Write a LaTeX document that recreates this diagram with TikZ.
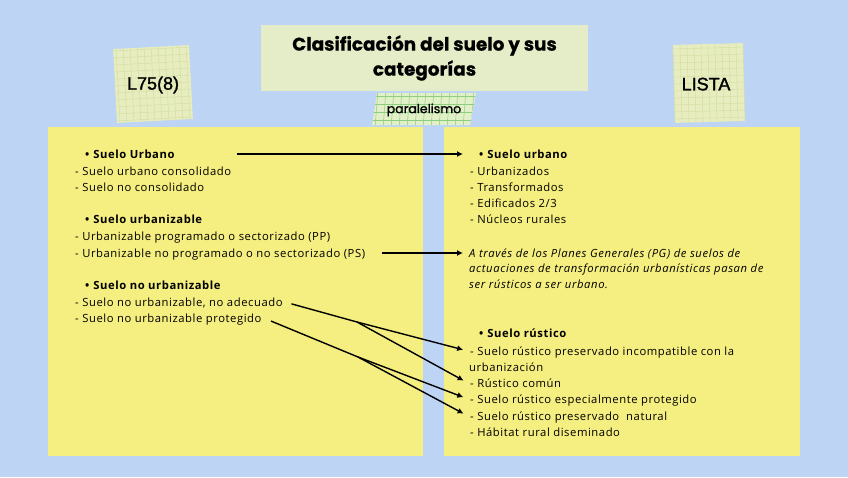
\documentclass[tikz,border=0pt]{standalone}
\usepackage{fontspec}
\setmainfont[LetterSpace=5, ItalicFeatures={LetterSpace=5.5}]{Open Sans}
\newfontfamily\titlefont[BoldFeatures={FakeBold=0.6}]{Poppins}
\newfontfamily\notefont[FakeBold=1.5]{Liberation Sans}
\newfontfamily\tapefont[FakeBold=1.2]{Poppins}
\usetikzlibrary{arrows.meta}

\definecolor{bgblue}{RGB}{189,212,245}
\definecolor{panelyellow}{RGB}{245,238,128}
\definecolor{titlegreen}{RGB}{229,236,200}
\definecolor{notefill}{RGB}{231,237,190}
\definecolor{notegrid}{RGB}{212,223,166}
\definecolor{tapefill}{RGB}{226,240,200}
\definecolor{tapegrid}{RGB}{140,206,128}

\begin{document}
\begin{tikzpicture}[x=1pt, y=-1pt, >={Latex[length=6pt,width=6pt]},
	every node/.style={font=\fontsize{11.25}{13}\selectfont},
	item/.style={anchor=west, inner sep=2pt, text height=11pt, text depth=1.5pt},
	head/.style={item, font=\fontsize{11.25}{13}\selectfont\bfseries},
	note/.style={item, font=\fontsize{11.25}{13}\selectfont\itshape},
	link/.style={->, line width=1.4pt}]
	\fill[bgblue] (0,0) rectangle (848,477);
	\useasboundingbox (0,0) rectangle (848,477);
	% yellow panels
	\fill[panelyellow] (48,127) rectangle (423,456);
	\fill[panelyellow] (444,127) rectangle (800,456);
	% title
	\node[fill=titlegreen, minimum width=327pt, minimum height=66pt, align=center,
		font=\titlefont\bfseries\fontsize{18.4}{25}\selectfont] (title) at (424.5,58)
		{Clasificación del suelo y sus\\categorías};
	% sticky notes
	\begin{scope}[shift={(153,84)}, rotate=3]
		\fill[notefill] (-38,-37) rectangle (38,37);
		\foreach \g in {-35,-28,...,35} {
			\draw[notegrid, line width=0.5pt] (\g,-37) -- (\g,37);
			\draw[notegrid, line width=0.5pt] (-38,\g) -- (38,\g);
		}
		\node[font=\notefont\fontsize{18}{20}\selectfont] (ley) at (0,1) {L75(8)};
	\end{scope}
	\begin{scope}[shift={(709,83)}, rotate=1.5]
		\fill[notefill] (-35,-39) rectangle (35,39);
		\foreach \g in {-35,-28,...,35} {
			\draw[notegrid, line width=0.5pt] (\g,-39) -- (\g,39);
			\draw[notegrid, line width=0.5pt] (-35,\g) -- (35,\g);
		}
		\node[font=\notefont\fontsize{18}{20}\selectfont] (lista) at (-3,1) {LISTA};
	\end{scope}
	% tape
	\fill[tapefill] (377,93) -- (476,93) -- (470,125) -- (372,125) -- cycle;
	\begin{scope}
		\clip (377,93) -- (476,93) -- (470,125) -- (372,125) -- cycle;
		\foreach \g in {370,378,...,478} \draw[tapegrid, line width=0.5pt] (\g,90) -- (\g-3,128);
		\foreach \g in {96,104,...,124} \draw[tapegrid, line width=0.5pt] (368,\g) -- (480,\g);
	\end{scope}
	\node[font=\tapefont\fontsize{12.5}{14}\selectfont] (tape) at (424,110) {paralelismo};
	% left column
	\node[head] (lurb) at (83,154) {\textbullet\hspace{4pt}Suelo Urbano};
	\node[item] (lurb1) at (73,171) {- Suelo urbano consolidado};
	\node[item] (lurb2) at (73,187) {- Suelo no consolidado};
	\node[head] (lurz) at (83,219) {\textbullet\hspace{4pt}Suelo urbanizable};
	\node[item] (lurz1) at (73,236) {- Urbanizable programado o sectorizado (PP)};
	\node[item] (lurz2) at (73,253) {- Urbanizable no programado o no sectorizado (PS)};
	\node[head] (lnur) at (83,285) {\textbullet\hspace{4pt}Suelo no urbanizable};
	\node[item] (lnur1) at (73,302) {- Suelo no urbanizable, no adecuado};
	\node[item] (lnur2) at (73,318) {- Suelo no urbanizable protegido};
	% right column
	\node[head] (rurb) at (477,154) {\textbullet\hspace{4pt}Suelo urbano};
	\node[item] (rurb1) at (468,171) {- Urbanizados};
	\node[item] (rurb2) at (468,187) {- Transformados};
	\node[item] (rurb3) at (468,203) {- Edificados 2/3};
	\node[item] (rurb4) at (468,219) {- Núcleos rurales};
	\node[note] (rpg1) at (467,253) {A través de los Planes Generales (PG) de suelos de};
	\node[note] (rpg2) at (467,268) {actuaciones de transformación urbanísticas pasan de};
	\node[note] (rpg3) at (467,284) {ser rústicos a ser urbano.};
	\node[head] (rrus) at (477,333) {\textbullet\hspace{4pt}Suelo rústico};
	\node[item] (rrus1) at (468,351) {- Suelo rústico preservado incompatible con la};
	\node[item] (rrus1b) at (467,367) {urbanización};
	\node[item] (rrus2) at (468,383) {- Rústico común};
	\node[item] (rrus3) at (468,399) {- Suelo rústico especialmente protegido};
	\node[item] (rrus4) at (468,416) {- Suelo rústico preservado\ \ natural};
	\node[item] (rrus5) at (468,432) {- Hábitat rural diseminado};
	% connectors
	\coordinate (fork1) at (357,322);
	\coordinate (fork2) at (358,357);
	\draw[link, shorten <=60pt, shorten >=14pt] (lurb.east) -- (rurb.west);
	\draw[link, shorten <=15pt, shorten >=4pt] (lurz2.east) -- (rpg1.west);
	\draw[link, shorten <=7pt, shorten >=5pt] (lnur1.east) -- (fork1) -- (rrus1.west);
	\draw[link, shorten >=5pt] (fork1) -- (rrus2.west);
	\draw[link, shorten <=8pt, shorten >=5pt] (lnur2.east) -- (fork2) -- (rrus3.west);
	\draw[link, shorten >=5pt] (fork2) -- (rrus4.west);
\end{tikzpicture}
\end{document}
